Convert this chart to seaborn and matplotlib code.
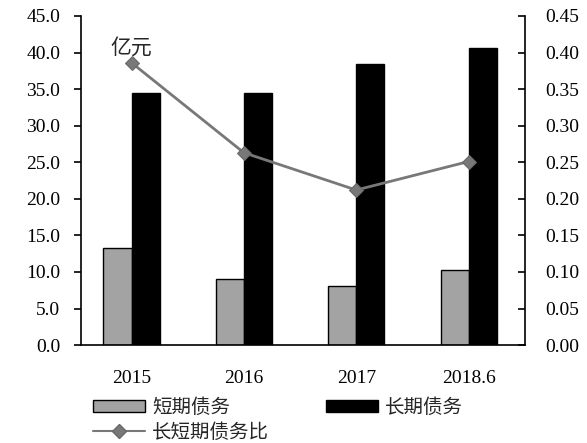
import numpy as np
import pandas as pd
import matplotlib
matplotlib.use("Agg")
import matplotlib.pyplot as plt
import seaborn as sns
from matplotlib.patches import Patch
from matplotlib.lines import Line2D

# Debt figures (亿元) by period
periods = ["2015", "2016", "2017", "2018.6"]
short_debt = [13.3, 9.0, 8.1, 10.2]
long_debt = [34.5, 34.5, 38.4, 40.6]
ratio = [0.386, 0.263, 0.212, 0.251]

series_names = ["短期债务", "长期债务"]
ratio_name = "长短期债务比"

sns.set_theme(style="white")
plt.rcParams["font.family"] = ["Liberation Serif", "Noto Sans CJK SC", "DejaVu Sans"]

df = pd.DataFrame({
    "period": periods * 2,
    "value": short_debt + long_debt,
    "series": [series_names[0]] * 4 + [series_names[1]] * 4,
})

fig = plt.figure(figsize=(5.87, 4.43), dpi=100)
ax = fig.add_axes([0.138, 0.221, 0.756, 0.743])

sns.barplot(data=df, x="period", y="value", hue="series", ax=ax,
            palette=["#a3a3a3", "#000000"], width=0.5, gap=0,
            edgecolor="black", linewidth=1.0, legend=False)
ax.set_ylim(0, 45)
ax.set_yticks(np.arange(0, 45.1, 5))
ax.set_yticklabels([f"{v:.1f}" for v in np.arange(0, 45.1, 5)])
ax.set_xlim(-0.45, 3.5)
ax.set_xlabel("")
ax.set_ylabel("")

ax2 = ax.twinx()
sns.lineplot(x=np.arange(len(periods)), y=ratio, ax=ax2, color="#787878",
             linewidth=2, marker="D", markersize=7, markeredgecolor="#686868",
             label=ratio_name, legend=False)
ax2.set_ylim(0, 0.45)
ax2.set_yticks(np.arange(0, 0.451, 0.05))
ax2.set_yticklabels([f"{v:.2f}" for v in np.arange(0, 0.451, 0.05)])
ax2.set_xlim(-0.45, 3.5)

for a in (ax, ax2):
    for s in a.spines.values():
        s.set_visible(False)
ax.spines["left"].set_visible(True)
ax.spines["bottom"].set_visible(True)
ax2.spines["right"].set_visible(True)
for a in (ax, ax2):
    for s in a.spines.values():
        s.set_color("black")
        s.set_linewidth(1.2)

ax.tick_params(axis="y", direction="out", length=5, width=1.2, color="black",
               left=True, labelsize=14, pad=10, labelcolor="black")
ax.tick_params(axis="x", bottom=False, labelsize=14, pad=12, labelcolor="black")
ax2.tick_params(axis="y", direction="in", length=5, width=1.2, color="black",
                right=True, labelsize=14, pad=15, labelcolor="black")

ax.text(0.0, 40.6, "亿元", ha="center", va="center", fontsize=15,
        family=["Noto Sans CJK SC", "DejaVu Sans"])

handles = [
    Patch(facecolor="#a3a3a3", edgecolor="black", linewidth=1.0),
    Line2D([], [], color="#787878", linewidth=1.5, marker="D", markersize=7,
           markeredgecolor="#686868"),
    Patch(facecolor="#000000", edgecolor="black", linewidth=1.0),
]
labels = [series_names[0], ratio_name, series_names[1]]
fig.legend(handles, labels, ncol=2, loc="upper left",
           bbox_to_anchor=(0.145, 0.122), frameon=False,
           prop={"family": ["Noto Sans CJK SC", "DejaVu Sans"], "size": 14},
           handlelength=2.7, handleheight=0.6, handletextpad=0.35,
           columnspacing=2.9, labelspacing=0.2, borderaxespad=0)

fig.savefig("out.png", dpi=100)
